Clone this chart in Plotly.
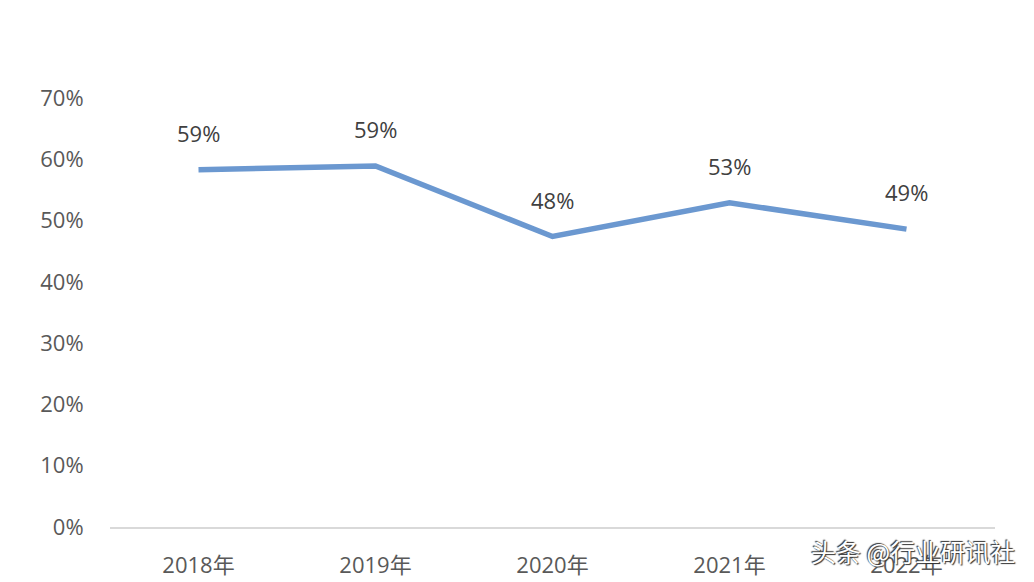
import plotly.graph_objects as go

years = ["2018年", "2019年", "2020年", "2021年", "2022年"]
values = [0.583, 0.589, 0.474, 0.529, 0.486]
labels = ["59%", "59%", "48%", "53%", "49%"]
yticks = [0, 0.1, 0.2, 0.3, 0.4, 0.5, 0.6, 0.7]
yticklabels = ["0%", "10%", "20%", "30%", "40%", "50%", "60%", "70%"]

FONT = "Open Sans, Noto Sans CJK SC, sans-serif"

fig = go.Figure()
fig.add_trace(go.Scatter(
    x=years, y=values, mode="lines",
    line=dict(color="#6b98d0", width=5.5),
    hoverinfo="skip", showlegend=False,
))

for x, y, t in zip(years, values, labels):
    fig.add_annotation(x=x, y=y, text=t, showarrow=False, yshift=37,
                       font=dict(size=22, color="#404040", family=FONT))

fig.add_annotation(xref="paper", yref="paper", x=1.025, y=-0.0,
                   xanchor="right", yanchor="middle", yshift=-24,
                   text="头条 @行业研讯社", showarrow=False,
                   font=dict(size=25, color="white", family="Noto Sans CJK SC",
                             shadow="1px 1px 1px #333, -1px -1px 1px #333"))

fig.update_layout(
    width=1026, height=574,
    margin=dict(l=102, r=39, t=90, b=55, autoexpand=False),
    paper_bgcolor="white", plot_bgcolor="white",
    xaxis=dict(range=[-0.5, 4.5], automargin=False,
               showgrid=False, showline=True, linecolor="#d9d9d9", linewidth=1.5,
               ticks="outside", ticklen=18, tickcolor="rgba(0,0,0,0)",
               tickfont=dict(size=22, color="#595959", family=FONT)),
    yaxis=dict(range=[0, 0.7], tickvals=yticks, ticktext=yticklabels, automargin=False,
               showgrid=False, zeroline=False, showline=False,
               ticks="outside", ticklen=21, tickcolor="rgba(0,0,0,0)",
               tickfont=dict(size=22, color="#595959", family=FONT)),
)

fig.write_html("out.html")
